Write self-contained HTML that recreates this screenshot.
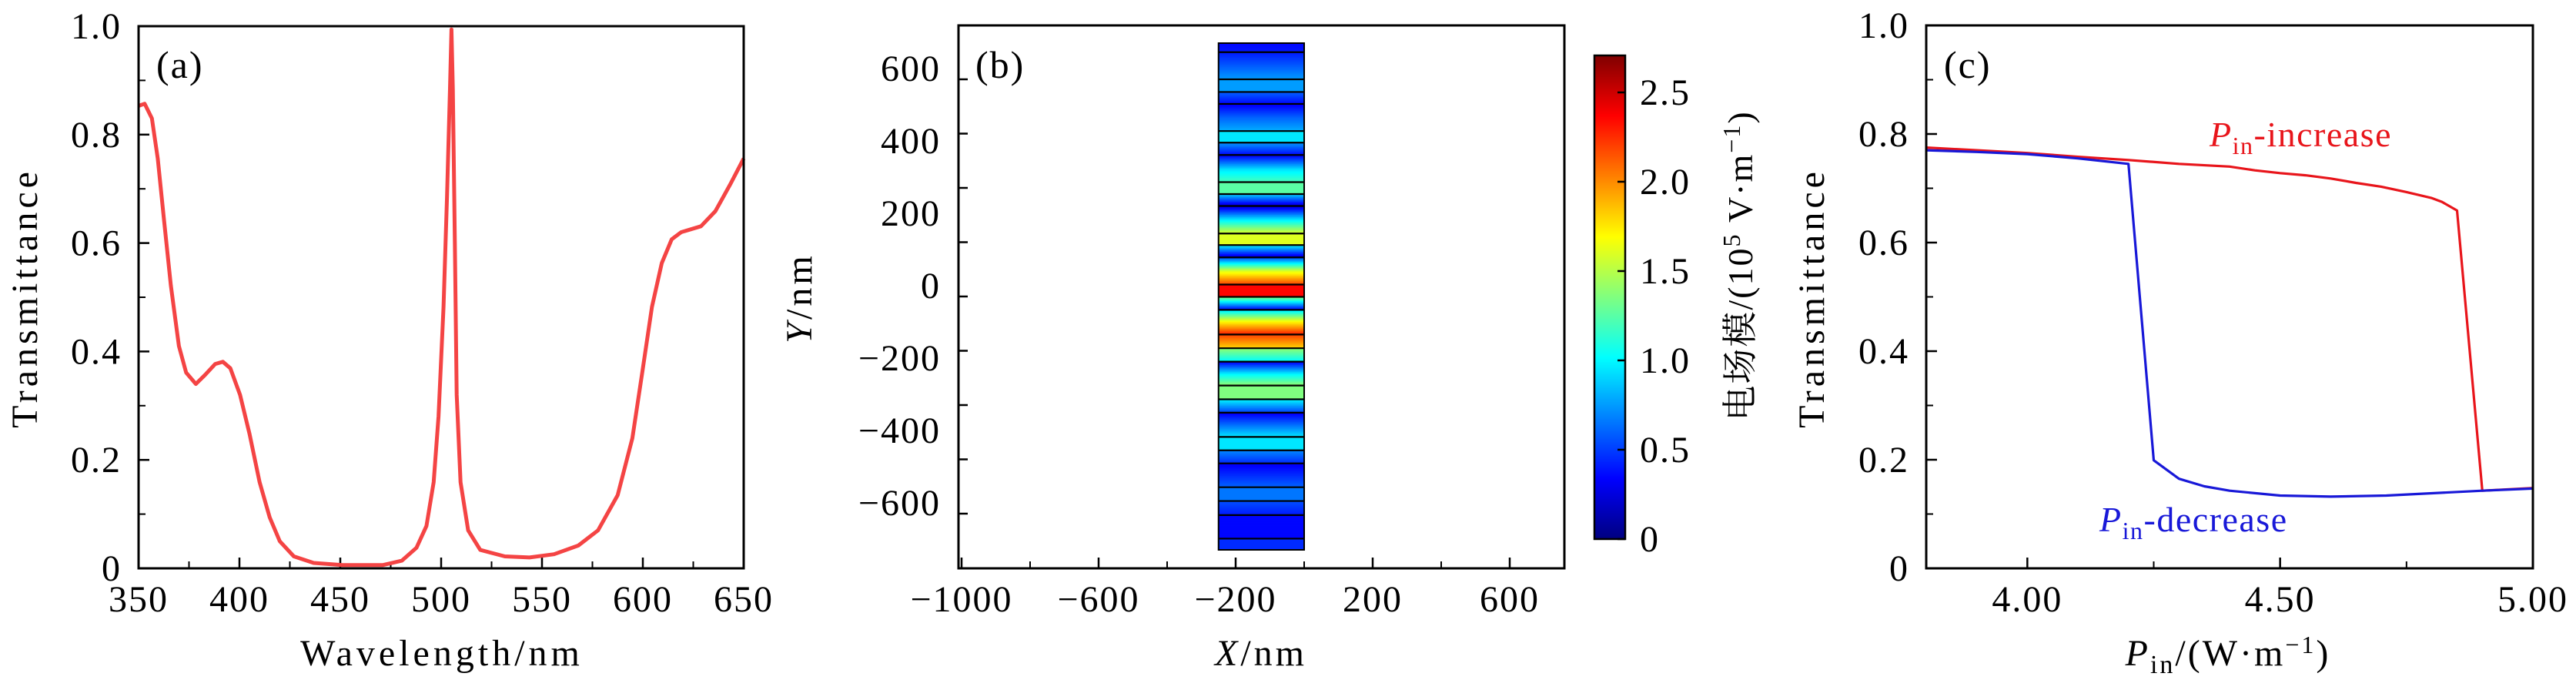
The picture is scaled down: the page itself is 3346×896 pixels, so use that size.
<!DOCTYPE html>
<html><head><meta charset="utf-8"><style>
html,body{margin:0;padding:0;background:#fff;}
svg{display:block;font-family:"Liberation Serif","Noto Serif CJK SC","Noto Sans CJK SC",serif;}
</style></head><body>
<svg id="fig" width="3346" height="896" viewBox="0 0 3346 896" xmlns="http://www.w3.org/2000/svg">
<g id="pa"></g>
<g id="pb"></g>
<g id="pc"></g>
</svg>
<script>
// ---- Panel (a) data ----
const aWave=[350,353,356.6,359.5,362.6,366,370,373.6,378.4,383,388,391.8,395.5,400.3,405,410,415,420,427,436.8,451,471,480.5,487.8,492.7,496.3,498.7,501.2,502.9,504.4,505.1,505.8,506.8,507.7,509.6,513.4,519.4,531.6,543.8,556,568,577.8,587.5,594.8,599.7,604.5,609.4,614.3,619,628.8,636,643.3,650];
const aTrans=[0.853,0.857,0.83,0.756,0.643,0.522,0.41,0.361,0.34,0.357,0.377,0.381,0.369,0.32,0.248,0.159,0.094,0.05,0.022,0.01,0.006,0.006,0.014,0.038,0.078,0.159,0.28,0.482,0.684,0.885,0.994,0.885,0.603,0.32,0.159,0.07,0.034,0.022,0.02,0.026,0.042,0.07,0.135,0.24,0.361,0.482,0.563,0.607,0.62,0.631,0.659,0.708,0.756];
const aXTicks=[350,400,450,500,550,600,650];
const aYTicks=[0,0.2,0.4,0.6,0.8,1.0];
const aYTickLabels=["0","0.2","0.4","0.6","0.8","1.0"];
// ---- Panel (b) data ----
const bLayerY=[675,600,565,532,457,425,391,316,283,250,174,142,108,33,-1,-37,-105,-143,-180,-246,-284,-321,-388,-425,-461,-527,-565,-604,-669];
const bFieldY=[700,675,675,600,600,565,565,532,532,494,457,457,425,425,391,391,350,316,316,283,283,250,250,210,174,174,142,142,108,108,70,33,33,-1,-1,-37,-37,-70,-105,-105,-143,-143,-180,-180,-215,-246,-246,-284,-284,-321,-321,-388,-388,-425,-425,-461,-461,-527,-527,-565,-565,-604,-604,-669,-669,-700];
const bFieldE=[0.35,0.4,0.4,0.75,0.75,0.75,0.6,0.35,0.3,0.6,0.8,0.95,0.95,0.75,0.35,0.3,0.95,1.2,1.25,1.25,0.9,0.2,0.2,1.0,1.6,1.6,1.6,1.0,0.2,0.5,1.6,2.2,2.35,2.35,1.4,0.3,0.9,1.7,2.3,2.2,1.8,1.4,1.0,0.3,1.0,1.4,1.35,1.35,1.0,0.5,0.3,0.95,0.95,0.95,0.7,0.45,0.3,0.6,0.65,0.65,0.55,0.4,0.35,0.35,0.45,0.45];
const bXTicks=[-1000,-600,-200,200,600];
const bXMinor=[-800,-400,0,400];
const bYTicks=[600,400,200,0,-200,-400,-600];
const bCbTicks=[0,0.5,1.0,1.5,2.0,2.5];
// ---- Panel (c) data ----
const cIncP=[3.8,3.9,4.0,4.1,4.2,4.3,4.4,4.45,4.5,4.55,4.6,4.65,4.7,4.75,4.8,4.82,4.85,4.9,5.0];
const cIncT=[0.775,0.77,0.765,0.758,0.752,0.745,0.74,0.733,0.728,0.724,0.718,0.71,0.703,0.693,0.682,0.675,0.659,0.143,0.148];
const cDecP=[3.8,3.9,4.0,4.1,4.2,4.25,4.3,4.35,4.4,4.5,4.6,4.71,4.9,5.0];
const cDecT=[0.77,0.767,0.763,0.755,0.745,0.199,0.165,0.151,0.143,0.134,0.132,0.134,0.143,0.147];
const cXTicks=[4.0,4.5,5.0];
const cXTickLabels=["4.00","4.50","5.00"];
const cYTicks=[0,0.2,0.4,0.6,0.8,1.0];
const cYTickLabels=["0","0.2","0.4","0.6","0.8","1.0"];

const NS="http://www.w3.org/2000/svg";
function mk(parent,tag,attrs,text){const e=document.createElementNS(NS,tag);for(const k in attrs)e.setAttribute(k,attrs[k]);if(text!==undefined)e.textContent=text;parent.appendChild(e);return e;}
function lin(d0,d1,r0,r1){return v=>r0+(v-d0)/(d1-d0)*(r1-r0);}
const FS=48, LS=2, TLS=5;

// ===== Panel (a) =====
(function(){
const g=document.getElementById('pa');
const L=180,R=966,T=34,B=738;
const x=lin(350,650,L,R), y=lin(0,1,B,T);
for(let v=375;v<650;v+=50){const t=mk(g,'line',{x1:x(v),x2:x(v),y1:B,y2:B-9,stroke:'#000','stroke-width':2});
}
for(let v=0.1;v<1;v+=0.2){const t=mk(g,'line',{x1:L,x2:L+9,y1:y(v),y2:y(v),stroke:'#000','stroke-width':2});
}
aXTicks.forEach(v=>{const t=mk(g,'line',{x1:x(v),x2:x(v),y1:B,y2:B-14,stroke:'#000','stroke-width':2.5});

const l=mk(g,'text',{x:x(v),y:794,'font-size':FS,'text-anchor':'middle','letter-spacing':LS},String(v));
});
aYTicks.forEach((v,i)=>{const t=mk(g,'line',{x1:L,x2:L+14,y1:y(v),y2:y(v),stroke:'#000','stroke-width':2.5});

const l=mk(g,'text',{x:158,y:y(v)+16,'font-size':FS,'text-anchor':'end','letter-spacing':LS},aYTickLabels[i]);
});
const d=aWave.map((w,i)=>(i?'L':'M')+x(w).toFixed(1)+','+y(aTrans[i]).toFixed(1)).join(' ');
const p=mk(g,'path',{d:d,fill:'none',stroke:'#f44444','stroke-width':5,'stroke-linejoin':'round'});

const f=mk(g,'rect',{x:L,y:T,width:R-L,height:B-T,fill:'none',stroke:'#000','stroke-width':3});

const pl=mk(g,'text',{x:203,y:101,'font-size':50,'letter-spacing':2},'(a)');

const xt=mk(g,'text',{x:574,y:864,'font-size':FS,'text-anchor':'middle','letter-spacing':TLS},'Wavelength/nm');

const yt=mk(g,'text',{x:0,y:0,'font-size':FS,'text-anchor':'middle','letter-spacing':TLS,transform:'translate(48,387) rotate(-90)'},'Transmittance');

})();

// ===== Panel (b) =====
function jet(v){v=Math.max(0,Math.min(1,v));
const r=Math.max(0,Math.min(1,1.5-Math.abs(4*v-3))),g=Math.max(0,Math.min(1,1.5-Math.abs(4*v-2))),b=Math.max(0,Math.min(1,1.5-Math.abs(4*v-1)));
return 'rgb('+Math.round(r*255)+','+Math.round(g*255)+','+Math.round(b*255)+')';}
(function(){
const g=document.getElementById('pb');
const L=1245,R=2032,T=33,B=738;
const x=lin(-1000,600,1249,1961), y=lin(0,600,385,103);
const EMAX=2.7;
const stripe=mk(g,'g',{});

const x0=x(-250),x1=x(0);
for(let i=0;i<bFieldY.length-1;i++){
 const ya=bFieldY[i],yb=bFieldY[i+1];if(ya===yb)continue;
 const pa=y(ya),pb=y(yb),n=Math.max(1,Math.ceil((pb-pa)/1.5));
 for(let k=0;k<n;k++){const t=(k+0.5)/n;const E=bFieldE[i]+(bFieldE[i+1]-bFieldE[i])*t;
  const r=mk(stripe,'rect',{x:x0,y:pa+(pb-pa)*k/n,width:x1-x0,height:(pb-pa)/n+0.6,fill:jet(E/EMAX)});
  }
}
bLayerY.forEach(v=>{const l=mk(g,'line',{x1:x0,x2:x1,y1:y(v),y2:y(v),stroke:'#000','stroke-width':2.2});
});
const sb=mk(g,'rect',{x:x0,y:y(700),width:x1-x0,height:y(-700)-y(700),fill:'none',stroke:'#000','stroke-width':2});

bXTicks.forEach(v=>{const t=mk(g,'line',{x1:x(v),x2:x(v),y1:B,y2:B-14,stroke:'#000','stroke-width':2.5});

const l=mk(g,'text',{x:x(v),y:794,'font-size':FS,'text-anchor':'middle','letter-spacing':LS},(v<0?'\u2212'+(-v):String(v)));
});
bXMinor.forEach(v=>{const t=mk(g,'line',{x1:x(v),x2:x(v),y1:B,y2:B-9,stroke:'#000','stroke-width':2});
});
for(let v=-600;v<=600;v+=150){const t=mk(g,'line',{x1:L,x2:L+12,y1:y(v),y2:y(v),stroke:'#000','stroke-width':2.5});
}
bYTicks.forEach(v=>{const l=mk(g,'text',{x:1222,y:y(v)+2,'font-size':FS,'text-anchor':'end','letter-spacing':LS},(v<0?'\u2212'+(-v):String(v)));
});
const f=mk(g,'rect',{x:L,y:T,width:R-L,height:B-T,fill:'none',stroke:'#000','stroke-width':3});

const pl=mk(g,'text',{x:1267,y:101,'font-size':50,'letter-spacing':2},'(b)');

const xt=mk(g,'text',{x:1638,y:864,'font-size':FS,'text-anchor':'middle','letter-spacing':4});

mk(xt,'tspan',{'font-style':'italic'},'X');mk(xt,'tspan',{},'/nm');
const yt=mk(g,'text',{x:0,y:0,'font-size':FS,'text-anchor':'middle','letter-spacing':4,transform:'translate(1054,387) rotate(-90)'});

mk(yt,'tspan',{'font-style':'italic'},'Y');mk(yt,'tspan',{},'/nm');
// colorbar
const cx0=2071,cx1=2111,cT=72,cB=700;const cy=lin(0,2.5,cB,120);
const cb=mk(g,'g',{});
for(let p=cT;p<cB;p+=2){const E=(cB-p-1)/(cB-cT)*EMAX;
 const r=mk(cb,'rect',{x:cx0,y:p,width:cx1-cx0,height:2.6,fill:jet(E/EMAX)});
 }
const cf=mk(cb,'rect',{x:cx0,y:cT,width:cx1-cx0,height:cB-cT,fill:'none',stroke:'#000','stroke-width':2.5});

bCbTicks.forEach(v=>{const t=mk(cb,'line',{x1:cx1-10,x2:cx1,y1:cy(v),y2:cy(v),stroke:'#000','stroke-width':2.5});

const l=mk(cb,'text',{x:2130,y:cy(v)+16,'font-size':FS,'letter-spacing':LS},v===0?'0':v.toFixed(1));
});
const ct=mk(g,'text',{x:0,y:0,'font-size':46,'text-anchor':'middle','letter-spacing':2,transform:'translate(2276,345) rotate(-90)'});

mk(ct,'tspan',{},'电场模/(10');mk(ct,'tspan',{dy:-16,'font-size':32},'5');mk(ct,'tspan',{dy:16},' V·m');mk(ct,'tspan',{dy:-16,'font-size':32},'−1');mk(ct,'tspan',{dy:16},')');
})();

// ===== Panel (c) =====
(function(){
const g=document.getElementById('pc');
const L=2502,R=3290,T=33,B=738;
const x=lin(3.8,5.0,L,R), y=lin(0,1,B,T);
[4.25,4.75].forEach(v=>{const t=mk(g,'line',{x1:x(v),x2:x(v),y1:B,y2:B-9,stroke:'#000','stroke-width':2});
});
for(let v=0.1;v<1;v+=0.2){const t=mk(g,'line',{x1:L,x2:L+9,y1:y(v),y2:y(v),stroke:'#000','stroke-width':2});
}
cXTicks.forEach((v,i)=>{const t=mk(g,'line',{x1:x(v),x2:x(v),y1:B,y2:B-14,stroke:'#000','stroke-width':2.5});

const l=mk(g,'text',{x:x(v),y:794,'font-size':FS,'text-anchor':'middle','letter-spacing':LS},cXTickLabels[i]);
});
cYTicks.forEach((v,i)=>{const t=mk(g,'line',{x1:L,x2:L+14,y1:y(v),y2:y(v),stroke:'#000','stroke-width':2.5});

const l=mk(g,'text',{x:2480,y:y(v)+16,'font-size':FS,'text-anchor':'end','letter-spacing':LS},cYTickLabels[i]);
});
const dI=cIncP.map((p,i)=>(i?'L':'M')+x(p).toFixed(1)+','+y(cIncT[i]).toFixed(1)).join(' ');
const pI=mk(g,'path',{d:dI,fill:'none',stroke:'#e8151b','stroke-width':3.2,'stroke-linejoin':'round'});

const dD=cDecP.map((p,i)=>(i?'L':'M')+x(p).toFixed(1)+','+y(cDecT[i]).toFixed(1)).join(' ');
const pD=mk(g,'path',{d:dD,fill:'none',stroke:'#1818d8','stroke-width':3.2,'stroke-linejoin':'round'});

const f=mk(g,'rect',{x:L,y:T,width:R-L,height:B-T,fill:'none',stroke:'#000','stroke-width':3});

const pl=mk(g,'text',{x:2525,y:101,'font-size':50,'letter-spacing':2},'(c)');

const li=mk(g,'text',{x:2870,y:190,'font-size':46,fill:'#e8151b','letter-spacing':1.5});

mk(li,'tspan',{'font-style':'italic'},'P');mk(li,'tspan',{dy:10,'font-size':32},'in');mk(li,'tspan',{dy:-10},'-increase');
const ld=mk(g,'text',{x:2727,y:690,'font-size':46,fill:'#1818d8','letter-spacing':1.5});

mk(ld,'tspan',{'font-style':'italic'},'P');mk(ld,'tspan',{dy:10,'font-size':32},'in');mk(ld,'tspan',{dy:-10},'-decrease');
const xt=mk(g,'text',{x:2894,y:864,'font-size':FS,'text-anchor':'middle','letter-spacing':3});

mk(xt,'tspan',{'font-style':'italic'},'P');mk(xt,'tspan',{dy:10,'font-size':34},'in');mk(xt,'tspan',{dy:-10},'/(W·m');mk(xt,'tspan',{dy:-16,'font-size':32},'−1');mk(xt,'tspan',{dy:16},')');
const yt=mk(g,'text',{x:0,y:0,'font-size':FS,'text-anchor':'middle','letter-spacing':TLS,transform:'translate(2369,387) rotate(-90)'},'Transmittance');

})();
</script>
</body></html>
